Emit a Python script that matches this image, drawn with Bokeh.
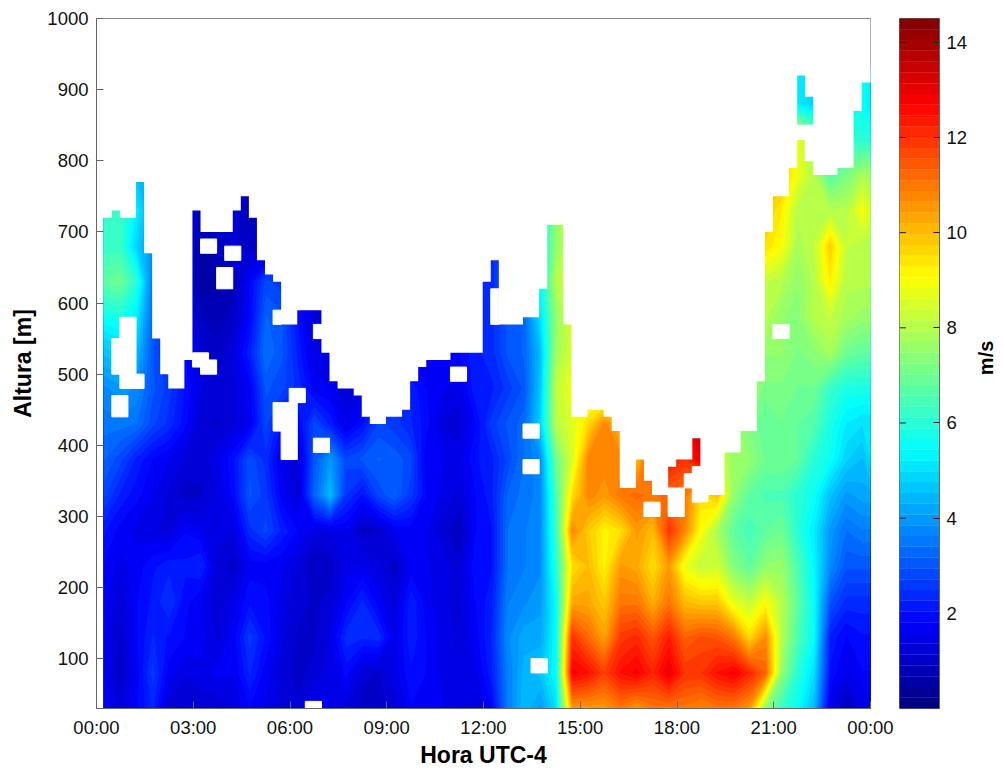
import math
import numpy as np
from bokeh.plotting import figure
from bokeh.layouts import row, column
from bokeh.models import FixedTicker, Range1d
from bokeh.core.properties import value
from bokeh.embed import file_html
from bokeh.resources import INLINE

FONT = "Liberation Sans"
hours = [0.225, 0.75, 1.25, 1.75, 2.25, 2.75, 3.25, 3.75, 4.25, 4.75, 5.25, 5.75, 6.25, 6.75, 7.25, 7.75,
         8.25, 8.75, 9.25, 9.75, 10.25, 10.75, 11.25, 11.75, 12.25, 12.75, 13.25, 13.75, 14.25, 14.75,
         15.25, 15.75, 16.25, 16.75, 17.25, 17.75, 18.25, 18.75, 19.25, 19.75, 20.25, 20.75, 21.25,
         21.75, 22.25, 22.75, 23.25, 23.75, 24.0]
heights = [30, 80, 130, 180, 230, 280, 330, 380, 430, 480, 530, 580, 630, 680, 730, 780, 830, 880, 930]

r030 = [1.8,1.3,1.8,2.3,1.2,1.1,1.2,1.1,1.4,1.8,1.5,1.3,1.2,1.5,1.5,1.4,1.0,1.1,1.2,1.8,1.8,1.6,1.4,1.3,1.8,3.6,4.5,4.0,5.0,10.5,10.5,10.5,11,10.5,11,11,11,10.8,11,11,10.5,7.5,6.2,5.5,4.5,1.5,0.8,1.4,1.4]
r080 = [1.6,1.0,1.7,2.6,1.7,1.4,1.5,1.7,1.6,2.3,1.7,1.3,1.0,1.3,1.4,1.9,1.2,1.1,1.5,2,1.8,1.5,1.4,1.5,2.2,3.6,4.4,4.6,5.5,12.8,12.5,11.8,12.5,12.8,12.2,13,12,12,12.5,12.8,12.2,11.3,7.5,6,5,2,1.5,1.8,1.8]
r130 = [1.6,1.1,1.8,2.3,2,1.8,1.7,1.3,1.7,2.6,2,1.4,1.1,1.0,1.5,2.4,2.3,2.4,1.5,2.2,1.8,1.5,1.3,1.7,2.3,3.8,4.2,4.2,5.5,12,11.2,10.4,11.9,12.1,11.5,12.3,11.3,11.6,11.5,11,9.6,10.7,8,6.5,5.5,2.2,1.8,2,2]
r180 = [1.7,1.2,1.8,2.1,2.5,1.9,1.6,1.2,1.5,2,1.9,1.5,1.2,1.1,1.2,1.8,2.3,1.7,1.3,2.2,1.7,1.4,1.3,1.8,2.2,3.6,3.8,4,5.5,10.3,10.3,9.8,11,11,10.2,11,10,9.8,9.8,8.7,8.2,9,8,6.8,5.5,3,2.4,2.4,2.4]
r230 = [1.8,1.5,1.7,2,2.2,2.1,2.3,1.3,1,1.7,1.7,1.6,1.3,0.9,1,1.5,1.6,1.4,1.0,1.7,1.6,1.5,1.2,2,2,3.4,3.6,3.8,6,9.5,10,9.2,10.5,10.3,9.5,10.5,8.8,8.2,8.4,7.3,6.8,7.5,7.6,6.5,5.4,3.8,3,3,3]
r280 = [2.1,1.7,1.5,1.4,1.3,1.8,1.6,1.4,1.4,2.4,2.8,2.2,1.8,1.4,1.4,1.6,1.0,1.1,1.6,1.7,1.6,1.2,0.9,1.8,2,3.4,3.6,3.8,6.2,10.8,9.8,9.2,9.5,10.5,10,12,10.8,9,7.8,6.8,6.4,6.8,7,6,5.2,4,3.4,3.6,3.6]
r330 = [2.8,2.2,1.9,1.6,1.3,1.0,1.1,1.4,1.9,3,2.6,1.7,1.3,3.2,4.5,2.5,2,2.8,3.2,2.6,1.8,1.5,1.3,1.8,2.2,3.2,3.5,3.7,6.5,9.5,10.8,10.5,11,11.2,11,11.2,11,9.5,10,7.5,6.8,6.5,6.5,6,5.6,4.6,4,4.2,4.2]
r380 = [3.2,2.8,2.2,1.8,1.6,1.3,1.2,1.5,2,2.9,2.4,1.5,1.2,3,4,2.8,3,3.2,3.1,2.8,1.6,1.6,1.5,2,2.2,2.8,3.4,3.8,7,8.5,10.8,10.8,10.8,10,11.8,12.5,12,13,8.5,7.6,7.5,7,7,6.8,6,5.6,4.8,4.5,5]
r430 = [3.5,3.5,3.4,2.8,2.4,1.9,1.2,1.1,1.3,1.6,2.8,2,1.8,2.8,2.2,1.5,2,2.8,2.6,2.3,1.9,1.3,1.2,1.8,2.6,3,3.3,4.8,8,8.6,9.6,10.8,10,10,10,12,12.5,13.8,8.5,7.6,7.2,6.8,7,6.8,6.6,5.8,5.2,5,5]
r480 = [3.8,4,3.8,3,2.6,2,1.4,1.2,1.3,1.7,3,2.8,2.4,1.7,1.6,1.2,1.5,2.5,2.6,2.2,1.8,1.6,1.5,2.2,2.2,2.6,3,4.6,8.2,8.8,8.5,8,8,8,8,8,8,8,8,8,7.5,7.2,7.2,7,7,6.2,5.8,5.8,5.8]
r530 = [4.6,4.8,4.5,3,2.2,1.8,1.2,1,1.4,2.2,3.4,3,2.2,1.4,1.4,1.4,1.4,1.8,1.8,1.5,1.4,1.6,1.8,2.2,2.4,3,3.2,4.5,7.7,8.5,8.5,8,8,8,8,8,8,8,8,8,7.5,7.5,7.5,7.2,7.4,7.8,7,6.8,6.8]
r580 = [5.6,5.8,5.2,3.2,2.2,1.8,0.9,0.8,1.0,1.8,3.2,3,2,1.2,1.2,1.4,1.4,1.8,1.8,1.5,1.4,1.6,1.8,2.2,2.4,3,3.2,5,7.5,8.5,8.5,8,8,8,8,8,8,8,8,8,8,8,7.5,7.4,8,8.2,7.8,7.6,7.6]
r630 = [6.8,7,6,3.4,2.2,1.5,0.5,0.6,0.8,1.8,2.8,2.6,2,1.2,1.2,1.4,1.4,1.8,1.8,1.5,1.4,1.6,1.8,2.2,2.4,3,3.2,5.5,8,8.5,8.5,8,8,8,8,8,8,8,8,8,8.2,8.2,8,7.5,8,9.3,8,8,8]
r680 = [6.2,6.2,4.8,3.8,2.2,1.5,0.6,1,1.2,1,1,2.6,2,1.2,1.2,1.4,1.4,1.8,1.8,1.5,1.4,1.6,1.8,2.2,2.4,3,3.2,5.5,7.5,8.5,8.5,8,8,8,8,8,8,8,8,8,8.2,9.5,9,7.8,8.2,9.8,8.2,8,8]
r730 = [6.3,6.3,5.2,4,2.2,1.5,0.8,1,1.2,0.8,1,2.6,2,1.2,1.2,1.4,1.4,1.8,1.8,1.5,1.4,1.6,1.8,2.2,2.4,3,3.2,5.5,7.5,8.5,8.5,8,8,8,8,8,8,8,8,8,8.2,9.8,9.3,8,8,8,8,9,8.5]
r780 = [6.3,6.3,4.5,4,2.2,1.5,0.8,1,1.2,0.8,1,2.6,2,1.2,1.2,1.4,1.4,1.8,1.8,1.5,1.4,1.6,1.8,2.2,2.4,3,3.2,5.5,7.5,8.5,8.5,8,8,8,8,8,8,8,8,8,8.2,9.8,10,8.8,8,6.6,7.2,7.8,7.8]
r830 = [6.3,6.3,4.5,4,2.2,1.5,0.8,1,1.2,0.8,1,2.6,2,1.2,1.2,1.4,1.4,1.8,1.8,1.5,1.4,1.6,1.8,2.2,2.4,3,3.2,5.5,7.5,8.5,8.5,8,8,8,8,8,8,8,8,8,8.2,9.8,9.5,8.8,7.5,6.8,6.2,6,6]
r880 = [6.3,6.3,4.5,4,2.2,1.5,0.8,1,1.2,0.8,1,2.6,2,1.2,1.2,1.4,1.4,1.8,1.8,1.5,1.4,1.6,1.8,2.2,2.4,3,3.2,5.5,7.5,8.5,8.5,8,8,8,8,8,8,8,8,8,8.2,9.8,9.5,5.2,4.8,5,5,5.6,5.2]
r930 = [6.3,6.3,4.5,4,2.2,1.5,0.8,1,1.2,0.8,1,2.6,2,1.2,1.2,1.4,1.4,1.8,1.8,1.5,1.4,1.6,1.8,2.2,2.4,3,3.2,5.5,7.5,8.5,8.5,8,8,8,8,8,8,8,8,8,8.2,9.8,9.5,5.2,4.8,5,5,5.6,5.2]
speed = [r030,r080,r130,r180,r230,r280,r330,r380,r430,r480,r530,r580,r630,r680,r730,r780,r830,r880,r930]

# top of measured data for each 15-minute column
col_top = [720,730,720,720,770,670,550,500,480,480,520,730,700,700,700,700,730,750,720,660,640,630,570,570,590,590,590,530,490,480,
           480,470,440,430,430,440,440,450,490,510,520,520,520,530,530,530,530,630,660,570,570,570,580,580,620,710,710,570,440,440,
           450,450,440,420,340,340,380,350,330,330,370,380,380,410,320,330,330,390,390,420,420,490,700,750,750,790,920,890,780,780,
           780,790,790,870,910]
# missing cells: column, lower height, upper height
holes = [(12,670,690),(13,670,690),(15,660,680),(16,660,680),(14,620,650),(15,620,650),(11,510,530),(12,500,530),(13,500,520),
         (1,500,550),(2,480,580),(3,480,580),(4,480,500),(1,440,470),(2,440,470),(21,570,590),(26,550,570),(21,420,460),(22,380,460),
         (23,380,480),(24,460,480),(26,390,410),(27,390,410),(25,30,40),(26,30,40),(43,490,510),(44,490,510),(48,570,620),(52,410,430),
         (53,410,430),(52,360,380),(53,360,380),(53,80,100),(54,80,100),(72,340,360),(73,320,370),(67,300,320),(68,300,320),(70,300,340),
         (71,300,340),(83,550,570),(84,550,570),(86,830,850),(87,800,850)]

x_ticks = [0, 3, 6, 9, 12, 15, 18, 21, 24]
x_labels = ["00:00", "03:00", "06:00", "09:00", "12:00", "15:00", "18:00", "21:00", "00:00"]
y_ticks = [100, 200, 300, 400, 500, 600, 700, 800, 900, 1000]
cb_ticks = [2, 4, 6, 8, 10, 12, 14]


def jet(n):
    out = []
    for i in range(n):
        t = (i + 0.5) / n * 4
        r = min(t - 1.5, -t + 4.5)
        g = min(t - 0.5, -t + 3.5)
        b = min(t + 0.5, -t + 2.5)
        c = [int(round(255 * max(0, min(1, v)))) for v in (r, g, b)]
        out.append("#%02x%02x%02x" % tuple(c))
    return out


palette = jet(64)
levels = list(np.linspace(0, 14.5, 65))
AXC = "#666666"

p = figure(width=895, height=740, x_range=Range1d(0, 24), y_range=Range1d(30, 1000),
           output_backend="svg", toolbar_location=None, min_border_left=96, min_border_top=18,
           min_border_right=25, min_border_bottom=32)
p.grid.visible = False
p.outline_line_color = AXC
p.background_fill_color = "white"

z = np.array(speed)
for lev, col in zip(levels[:-1], palette):
    if lev < z.max():
        p.contour(hours, heights, z, levels=[lev, 100], fill_color=[col], line_color=None)

x0 = 0.225
env_x, env_y = [-0.2, -0.2], [1000, col_top[0]]
for k, top in enumerate(col_top):
    env_x += [x0 + 0.25 * k, x0 + 0.25 * (k + 1)]
    env_y += [top, top]
env_x += [24.2, 24.2]
env_y += [col_top[-1], 1000]
p.patch(env_x, env_y, fill_color="white", line_color=None)
p.quad(left=[x0 + 0.25 * h[0] for h in holes], right=[x0 + 0.25 * (h[0] + 1) for h in holes],
       bottom=[h[1] for h in holes], top=[h[2] for h in holes], fill_color="white", line_color="white", line_width=1)

for ax, ticks in ((p.xaxis[0], x_ticks), (p.yaxis[0], y_ticks)):
    ax.ticker = FixedTicker(ticks=ticks)
    ax.major_tick_in = 7
    ax.major_tick_out = 0
    ax.minor_tick_line_color = None
    ax.axis_line_color = AXC
    ax.major_tick_line_color = AXC
    ax.major_label_text_font = FONT
    ax.major_label_text_font_size = "18.5px"
    ax.major_label_text_color = "#111111"
    ax.major_label_standoff = 8
p.xaxis[0].major_label_overrides = {t: s for t, s in zip(x_ticks, x_labels)}
yax = p.yaxis[0]
yax.axis_label = "Altura [m]"
yax.axis_label_text_font = FONT
yax.axis_label_text_font_size = "23px"
yax.axis_label_text_font_style = "bold"
yax.axis_label_text_color = "black"
yax.axis_label_standoff = 8

cb = figure(width=80, height=740, x_range=Range1d(0, 1), y_range=Range1d(0, 14.5),
            output_backend="svg", toolbar_location=None, min_border_left=4, min_border_top=18,
            min_border_bottom=32, min_border_right=36, y_axis_location="right")
cb.grid.visible = False
cb.outline_line_color = AXC
cb.xaxis.visible = False
lv = np.array(levels)
cb.quad(left=0, right=1, bottom=lv[:-1], top=lv[1:], fill_color=palette, line_color=palette, line_width=0.3)
cb.segment(x0=[0] * len(cb_ticks), x1=[0.16] * len(cb_ticks), y0=cb_ticks, y1=cb_ticks, line_color="#222222")
ax = cb.yaxis[0]
ax.ticker = FixedTicker(ticks=cb_ticks)
ax.major_tick_in = 6
ax.major_tick_out = 0
ax.minor_tick_line_color = None
ax.axis_line_color = AXC
ax.major_tick_line_color = "#222222"
ax.major_label_text_font = FONT
ax.major_label_text_font_size = "18.5px"
ax.major_label_text_color = "#111111"
ax.major_label_standoff = 7


def caption(w, h, x, y, text, size, angle=0):
    f = figure(width=w, height=h, x_range=Range1d(0, w), y_range=Range1d(0, h), output_backend="svg",
               toolbar_location=None, min_border=0, outline_line_color=None)
    f.axis.visible = False
    f.grid.visible = False
    f.text(x=[x], y=[y], text=[text], angle=angle, text_align="center", text_baseline="middle",
           text_font=value(FONT), text_font_size=size, text_font_style="bold", text_color="black")
    return f


ms = caption(26, 740, 10, 376, "m/s", "20px", math.pi / 2)
xt = caption(895, 29, 483, 14.5, "Hora UTC-4", "23px")

page = column(row(p, cb, ms), xt)
open("out.html", "w").write(file_html(page, INLINE))
